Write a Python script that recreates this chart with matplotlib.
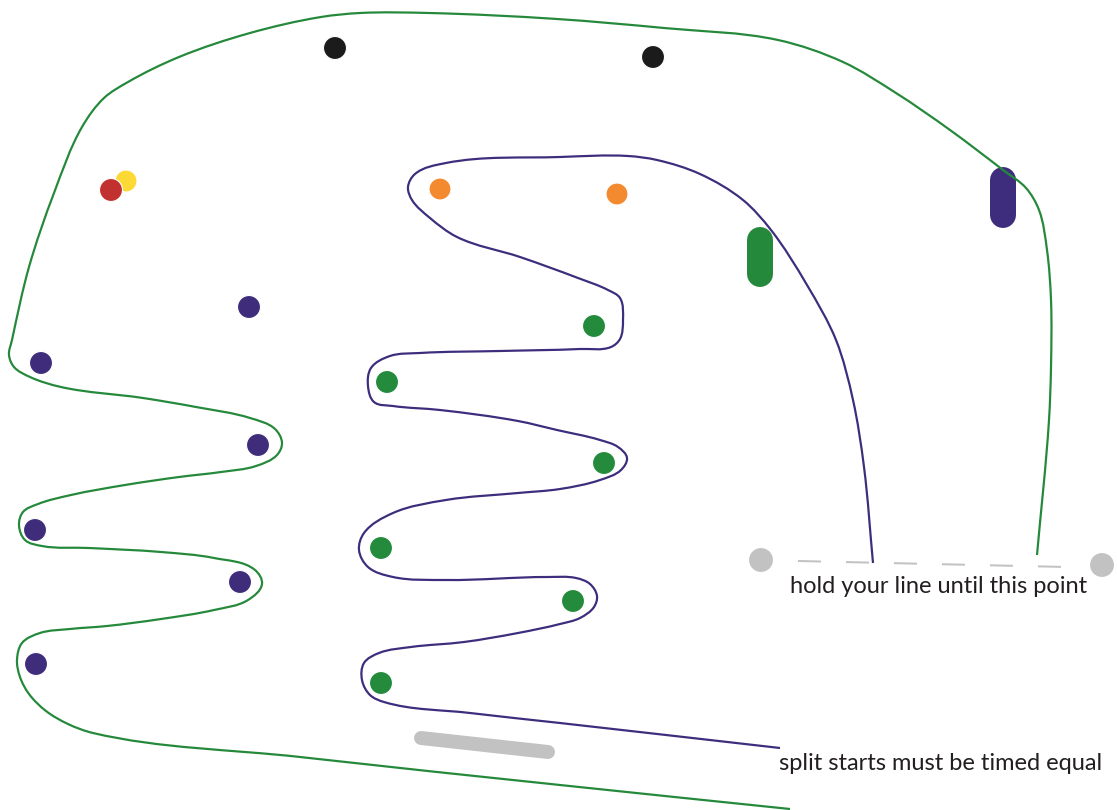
import matplotlib
matplotlib.use("Agg")
import matplotlib.pyplot as plt
from matplotlib.path import Path
from matplotlib.patches import PathPatch, Circle
import numpy as np

# canvas is 1117 x 810 px, coordinates below are in px (y down)
W, H = 1117, 810

# outer (green) line, from bottom-right end to the finish line
green_line = [(790, 809), (560, 785), (300, 757), (93, 733), (68, 724), (46, 711), (29, 694),
              (20, 677), (17, 660), (22, 643), (40, 633), (70, 629), (107, 626), (161, 619),
              (214, 610), (248, 600), (262, 584), (255, 570), (214, 558), (161, 552), (89, 548),
              (42, 546), (25, 540), (19, 525), (23, 512), (38, 504), (71, 495), (125, 485),
              (179, 477), (221, 472), (256, 466), (277, 455), (282, 443), (275, 429), (250, 418),
              (196, 407), (143, 398), (61, 387), (30, 377), (14, 367), (9, 355), (12, 340),
              (29, 267), (54, 193), (82, 127), (104, 98), (128, 82), (179, 57), (250, 33),
              (321, 17), (360, 13), (429, 13), (557, 19), (664, 28), (778, 40), (843, 62),
              (896, 93), (950, 130), (1003, 170), (1026, 188), (1039, 210), (1047, 250),
              (1051, 300), (1051, 367), (1049, 420), (1037, 555)]

# inner (purple) line
purple_line = [(780, 748), (560, 723), (470, 713), (384, 702), (370, 695), (362, 680), (364, 663),
               (379, 653), (411, 647), (464, 642), (518, 633), (560, 624), (580, 618), (594, 607),
               (597, 596), (590, 584), (576, 578), (548, 577), (446, 580), (393, 577),
               (368, 567), (359, 550), (364, 533), (393, 513), (446, 500), (518, 493), (560, 489),
               (600, 480), (621, 470), (627, 458), (618, 447), (600, 440), (557, 430), (518, 421),
               (440, 410), (393, 406), (374, 402), (368, 386), (371, 368), (390, 356), (420, 353),
               (500, 351), (580, 349), (611, 347), (620, 339), (623, 320), (620, 298), (608, 290),
               (578, 278), (520, 257), (457, 237), (430, 218), (412, 200), (408, 187), (415, 174),
               (446, 163), (560, 157), (628, 156), (657, 160), (700, 174), (743, 200), (771, 230),
               (807, 285), (836, 340), (853, 400), (864, 467), (873, 563)]

# gates / markers
black_dots = [(335, 48), (653, 57)]
orange_dots = [(440, 189), (617, 194)]
yellow_dot = (126, 181)
red_dot = (111, 190)
purple_dots = [(249, 307), (41, 363), (258, 445), (35, 530), (240, 582), (36, 664)]
green_dots = [(594, 326), (387, 382), (604, 463), (381, 548), (573, 601), (381, 683)]
purple_pill = [(1003, 180), (1003, 215)]
green_pill = [(760, 240), (760, 274)]
gray_bar = [(421, 738), (548, 752)]
finish_dots = [(761, 560), (1102, 565)]
finish_dash = [(798, 561), (1066, 567)]

label_finish = "hold your line until this point"
label_start = "split starts must be timed equal"

GREEN = "#25893b"
PURPLE = "#3d2d7c"
GRAY = "#c2c2c2"


def smooth(pts):
    # bezier through the traced points, tangents from neighbour directions
    pts = np.asarray(pts, float)
    n = len(pts)
    seg = np.diff(pts, axis=0)
    seglen = np.hypot(seg[:, 0], seg[:, 1])
    unit = seg / seglen[:, None]
    tang = np.zeros_like(pts)
    tang[0] = unit[0]
    tang[-1] = unit[-1]
    for i in range(1, n - 1):
        t = unit[i - 1] + unit[i]
        tang[i] = t / np.hypot(*t)
    verts = [pts[0]]
    codes = [Path.MOVETO]
    for i in range(n - 1):
        d = seglen[i] / 3
        verts += [pts[i] + tang[i] * d, pts[i + 1] - tang[i + 1] * d, pts[i + 1]]
        codes += [Path.CURVE4] * 3
    return Path(verts, codes)


fig = plt.figure(figsize=(W / 100, H / 100), dpi=100)
ax = fig.add_axes([0, 0, 1, 1])
ax.set_xlim(0, W)
ax.set_ylim(H, 0)
ax.axis("off")

pt = 72 / 100  # px -> points

# pills and bar (under the lines)
for seg, col in [(purple_pill, PURPLE), (green_pill, GREEN)]:
    xs, ys = zip(*seg)
    ax.plot(xs, ys, color=col, lw=26 * pt, solid_capstyle="round", zorder=1)
xs, ys = zip(*gray_bar)
ax.plot(xs, ys, color=GRAY, lw=14 * pt, solid_capstyle="round", zorder=1)

# dashed finish line
xs, ys = zip(*finish_dash)
ax.plot(xs, ys, color=GRAY, lw=2 * pt, dashes=(23 / 2, 25 / 2), zorder=1)

ax.add_patch(PathPatch(smooth(green_line), fill=False, edgecolor=GREEN, lw=2.2 * pt, zorder=3))
ax.add_patch(PathPatch(smooth(purple_line), fill=False, edgecolor=PURPLE, lw=2.2 * pt, zorder=3))


def dot(c, col, r=11.5):
    ax.add_patch(Circle(c, r, facecolor=col, edgecolor="white", lw=0.8, zorder=4))


for c in black_dots:
    dot(c, "#1b1b1b")
for c in orange_dots:
    dot(c, "#f38a2f", 11)
dot(yellow_dot, "#fcd934", 11)
dot(red_dot, "#c0312f", 11.5)
for c in purple_dots:
    dot(c, "#3f2c7b")
for c in green_dots:
    dot(c, "#238b3b")
for c in finish_dots:
    dot(c, GRAY, 12.5)

ax.text(790, 593, label_finish, fontsize=17, family="Lato", color="#231f20",
        ha="left", va="baseline")
ax.text(779, 770, label_start, fontsize=17, family="Lato", color="#231f20",
        ha="left", va="baseline")

fig.savefig("out.png", dpi=100, facecolor="white")
